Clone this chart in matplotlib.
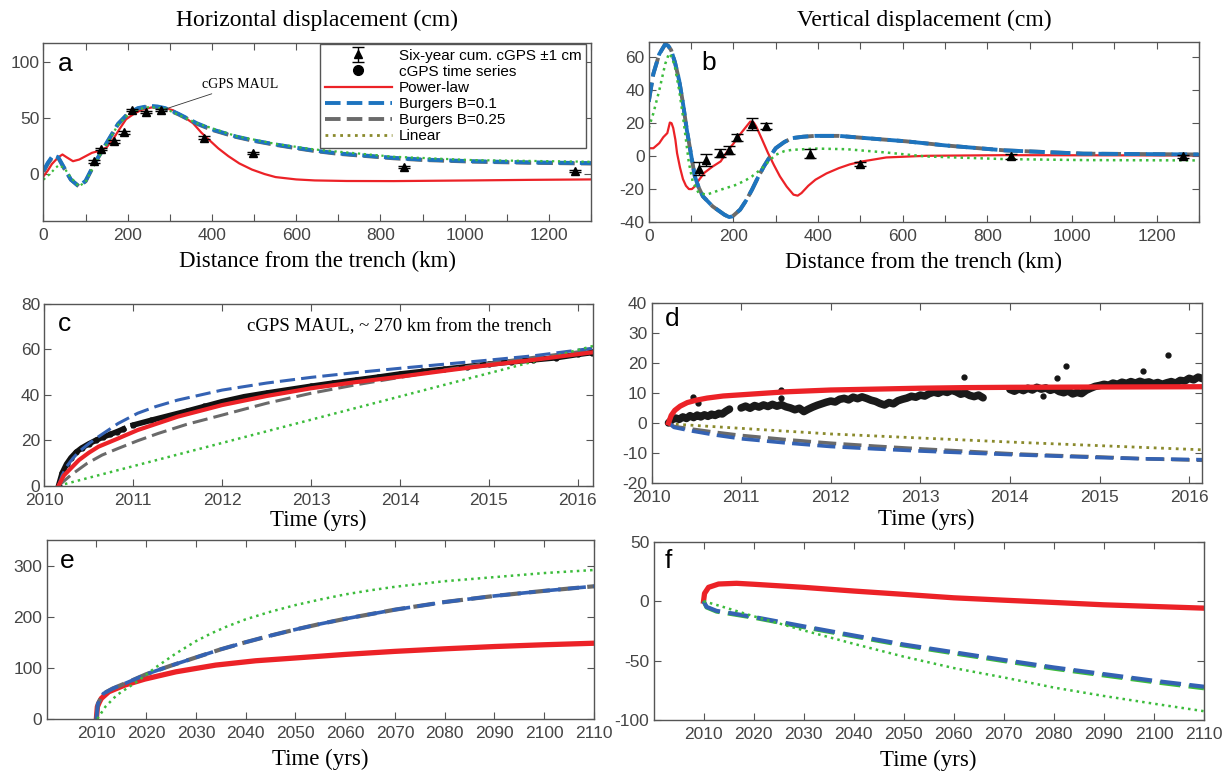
import matplotlib
matplotlib.use('Agg')
import matplotlib.pyplot as plt

plt.rcParams['axes.unicode_minus'] = False
plt.rcParams['font.family'] = 'Liberation Sans'

# ---- (a) horizontal displacement vs distance ----
sta_km = [119, 136, 168, 190, 209, 243, 278, 380, 498, 856, 1263]
a_obs = [11.3, 22.3, 29.2, 37.2, 57.4, 55.4, 57.4, 32.7, 18.8, 6.0, 2.4]

a_red_km = [0, 10, 20, 35, 45, 55, 70, 85, 100, 115, 135, 150, 165, 180, 196, 215, 233, 255,
            271, 290, 308, 330, 355, 375, 392, 415, 439, 465, 495, 525, 551, 600, 644, 720,
            831, 1018, 1150, 1300]
a_red = [-2, 3, 9, 15, 17.5, 15, 11.5, 13, 16, 19, 21, 24, 31, 40, 49, 54, 57.5, 59.5,
         60, 59, 57, 52, 45.5, 37, 31, 23, 16, 9.5, 4, 0, -2.7, -4.8, -5.7, -6.2,
         -6.3, -5.7, -5.2, -4.8]
a_blue_km = [0, 10, 23, 35, 50, 65, 84, 100, 115, 131, 150, 177, 200, 224, 252, 270, 289,
             320, 364, 400, 457, 500, 551, 600, 644, 700, 831, 900, 1018, 1150, 1300]
a_blue = [3, 10, 17, 15, 5, -5, -11, -6, 5, 16, 28, 45, 54, 59, 61, 60.5, 59,
          54, 45.5, 40, 33.6, 30, 26.5, 23.5, 21, 18.5, 14.5, 13, 11.5, 10.5, 9.8]
a_gray = [2, 9, 16, 14.5, 4.5, -5, -11, -6.5, 4.5, 15.5, 27.5, 44.5, 53.5, 58.5, 60.5, 60, 58.5,
          53.5, 45, 39.5, 33.2, 29.6, 26.1, 23.1, 20.6, 18.1, 14.1, 12.6, 11.1, 10.1, 9.4]
a_lin_km = [0, 15, 30, 37, 50, 65, 84, 100, 115, 131, 150, 177, 200, 224, 252, 289, 364,
            457, 551, 644, 831, 1018, 1300]
a_lin = [-5, 0, 6, 8, 5, -3, -11, -7, 4, 15, 27, 44, 53, 58, 60, 58.5, 45.5,
         34, 27, 22, 15.5, 12.5, 11]

# ---- (b) vertical displacement vs distance ----
b_obs = [-7.6, -2.4, 2.0, 3.7, 11.4, 19.6, 18.4, 1.6, -4.5, -0.2, -0.2]
b_err = [3.8, 3.8, 2.3, 2.5, 2.2, 3.8, 2.0, 2.5, 1.2, 1.5, 1.0]

b_red_km = [0, 11, 25, 34.5, 44, 50, 54, 58, 63, 67, 74, 81, 88, 95, 102, 109, 120, 132, 150,
            170, 188, 200, 212, 226, 240, 248, 254, 268, 282, 296, 310, 326, 342, 352, 361,
            377, 394, 420, 449, 475, 505, 561, 655, 841, 1300]
b_red = [4.8, 4.8, 7.9, 11.5, 14, 20.4, 20, 17, 10, 1.8, -7, -14, -18, -20, -20, -18.4, -14, -10,
         -6.5, -3.2, 3.8, 7.5, 12, 16.5, 21, 20.5, 18, 10, 1.8, -5.5, -12.3, -18.5, -23.4, -24,
         -22.4, -18, -14.3, -10.5, -7.3, -5, -3.2, -0.8, 0.2, 0.6, 0.4]
b_blue_km = [0, 11, 25, 39, 46, 53, 62, 72, 81, 90, 100, 109, 118, 128, 151, 179, 190, 198, 216,
             230, 244, 258, 272, 286, 300, 320, 338, 365, 393, 449, 515, 608, 701, 841, 1027, 1300]
b_blue = [33, 50, 62, 68, 67, 64.4, 57, 46, 32, 16, 1, -12.3, -19, -24.4, -30.5, -35.6, -37,
          -36.6, -32.5, -27, -20.4, -13, -6.3, -0.5, 4.8, 8.5, 10.9, 11.8, 12.3, 12.3, 10.9,
          9, 6.5, 3.5, 1.5, 1.0]
b_lin_km = [0, 11, 25, 39, 48, 55, 62, 72, 81, 88, 95, 104, 118, 137, 170, 207, 230, 244, 260,
            272, 286, 300, 320, 338, 393, 468, 561, 655, 841, 1027, 1300]
b_lin = [17, 26, 40, 56, 62.4, 60, 54, 40, 24, 10, -4.2, -15.4, -22.4, -23.4, -20.4, -17.4,
         -14.5, -12.3, -9, -6.3, -2.5, 0.8, 3, 3.8, 4.6, 4.2, 2.2, -0.2, -1.8, -2.4, -2.6]

# ---- (c) MAUL horizontal time series ----
c_gps_t1 = [2010.16, 2010.20, 2010.25, 2010.30, 2010.36, 2010.42, 2010.50, 2010.58, 2010.66,
            2010.74, 2010.82, 2010.89]
c_gps_v1 = [0, 5.5, 9.5, 12.3, 14.8, 16.6, 18.4, 20.0, 21.4, 22.6, 23.8, 25.0]
c_gps_t2 = [2011.0, 2011.2, 2011.4, 2011.6, 2011.8, 2012.0, 2012.25, 2012.5, 2012.75, 2013.0,
            2013.25, 2013.5, 2013.75, 2014.0, 2014.25, 2014.5, 2014.75, 2015.0, 2015.25,
            2015.5, 2015.75, 2016.0, 2016.16]
c_gps_v2 = [26.7, 28.8, 30.8, 32.8, 34.9, 37.0, 39.2, 40.8, 42.3, 43.8, 45.2, 46.5, 47.8, 49.2,
            50.3, 51.3, 52.4, 53.5, 54.5, 55.4, 56.3, 57.8, 58.6]

c_red_t = [2010.16, 2010.22, 2010.28, 2010.39, 2010.5, 2010.61, 2010.83, 2011.05, 2011.5, 2012,
           2012.5, 2013, 2013.5, 2014, 2014.5, 2015, 2015.5, 2016.16]
c_red = [0, 4.5, 6.9, 11.3, 14.5, 17.2, 20.8, 24.5, 30.4, 35.5, 39.5, 42.9, 45.6, 48, 50.6,
         53.1, 55.4, 58.7]
c_blue_t = [2010.16, 2010.2, 2010.25, 2010.32, 2010.39, 2010.5, 2010.61, 2010.83, 2011.05,
            2011.25, 2011.5, 2012, 2012.5, 2013, 2013.5, 2014, 2014.5, 2015, 2015.5, 2016.16]
c_blue = [0, 4.5, 8.4, 12, 15, 18.5, 21.6, 27.4, 31.9, 34.8, 37.7, 42.1, 45.2, 47.7, 49.8, 51.7,
          53.5, 55.3, 57.2, 60.5]
c_gray_t = [2010.16, 2010.3, 2010.48, 2010.65, 2010.83, 2011.05, 2011.28, 2011.6, 2012, 2012.5,
            2013, 2013.5, 2014, 2014.5, 2015, 2015.5, 2016.16]
c_gray = [0, 4.7, 9.8, 13.5, 16.4, 19.8, 23, 27, 31.1, 36.3, 40.7, 44.4, 47.7, 51, 53.9, 56.5, 59.7]
c_lin_t = [2010.16, 2016.17]
c_lin = [0, 61.5]

# ---- (d) MAUL vertical time series ----
d_gps_t1 = [2010.19, 2010.23, 2010.27, 2010.31, 2010.35, 2010.39, 2010.43, 2010.47, 2010.51,
            2010.55, 2010.59, 2010.63, 2010.67, 2010.71, 2010.75, 2010.79, 2010.83, 2010.87]
d_gps_v1 = [0.0, 1.1, 1.6, 1.2, 2.0, 1.5, 2.4, 1.8, 2.6, 2.0, 2.7, 2.2, 2.9, 2.5, 3.2, 3.0, 3.9, 4.6]
d_gps_t2 = [2011.00, 2011.05, 2011.10, 2011.15, 2011.20, 2011.25, 2011.30, 2011.35, 2011.40,
            2011.45, 2011.50, 2011.55, 2011.60, 2011.65, 2011.70, 2011.75, 2011.80, 2011.85,
            2011.90, 2011.95, 2012.00, 2012.05, 2012.10, 2012.15, 2012.20, 2012.25, 2012.30,
            2012.35, 2012.40, 2012.45, 2012.50, 2012.55, 2012.60, 2012.65, 2012.70, 2012.75,
            2012.80, 2012.85, 2012.90, 2012.95, 2013.00, 2013.05, 2013.10, 2013.15, 2013.20,
            2013.25, 2013.30, 2013.35, 2013.40, 2013.45, 2013.50, 2013.55, 2013.60, 2013.65,
            2013.70]
d_gps_v2 = [5.0, 5.6, 4.9, 5.8, 5.3, 6.0, 5.5, 6.2, 5.6, 6.1, 5.4, 5.0, 4.4, 4.9, 3.8, 4.6, 5.3,
            5.9, 6.4, 6.9, 7.3, 7.0, 7.9, 8.2, 7.7, 8.6, 8.1, 8.7, 8.2, 7.6, 7.2, 6.5, 6.0, 6.8,
            6.4, 7.4, 7.9, 8.3, 8.9, 8.6, 9.3, 9.0, 9.8, 10.3, 9.9, 10.6, 10.2, 10.9, 10.4, 9.6,
            10.0, 9.2, 8.8, 9.3, 8.4]
d_gps_t3 = [2014.00, 2014.05, 2014.10, 2014.15, 2014.20, 2014.25, 2014.30, 2014.35, 2014.40,
            2014.45, 2014.50, 2014.55, 2014.60, 2014.65, 2014.70, 2014.75, 2014.80, 2014.85,
            2014.90, 2014.95, 2015.00, 2015.05, 2015.10, 2015.15, 2015.20, 2015.25, 2015.30,
            2015.35, 2015.40, 2015.45, 2015.50, 2015.55, 2015.60, 2015.65, 2015.70, 2015.75,
            2015.80, 2015.85, 2015.90, 2015.95, 2016.00, 2016.05, 2016.10, 2016.15]
d_gps_v3 = [11.2, 10.6, 11.4, 10.8, 11.6, 11.0, 11.9, 11.3, 11.7, 10.9, 11.4, 10.5, 10.1, 10.7,
            9.7, 10.2, 9.8, 10.9, 11.6, 12.2, 12.5, 12.9, 12.6, 13.3, 12.9, 13.6, 13.2, 13.8,
            13.3, 13.9, 13.4, 13.7, 13.1, 13.5, 12.9, 13.4, 13.8, 13.3, 14.2, 14.0, 14.9, 14.4,
            15.3, 14.8]
d_out_t = [2010.46, 2010.52, 2011.45, 2011.45, 2013.49, 2014.37, 2014.52, 2014.63, 2015.49, 2015.76]
d_out_v = [8.7, 6.5, 11.0, 8.2, 15.2, 8.9, 14.9, 18.9, 17.4, 22.6]

d_red_t = [2010.19, 2010.22, 2010.26, 2010.32, 2010.4, 2010.5, 2010.62, 2010.8, 2011, 2011.5,
           2012, 2012.5, 2013, 2013.5, 2014, 2015, 2016.15]
d_red = [0, 2.5, 4.2, 5.6, 6.8, 7.6, 8.3, 9.0, 9.4, 10.4, 11, 11.3, 11.6, 11.8, 11.9, 12, 12.1]
d_blue_t = [2010.19, 2010.25, 2010.43, 2010.7, 2011, 2011.5, 2012, 2012.5, 2013, 2013.5, 2014,
            2014.5, 2015, 2015.5, 2016.15]
d_blue = [0, -1.5, -2.6, -4, -5.3, -6.7, -7.9, -8.7, -9.4, -10, -10.6, -11.1, -11.6, -12, -12.3]
d_gray = [0, -1.2, -2, -3.1, -4.2, -5.6, -6.8, -7.8, -8.7, -9.5, -10.3, -10.9, -11.4, -12, -12.5]
d_lin_t = [2010.19, 2012, 2014, 2016.15]
d_lin = [-0.3, -3.7, -6.4, -9]

# ---- (e) horizontal, century scale ----
e_red_t = [2010.0, 2010.2, 2010.6, 2011, 2012.5, 2015.7, 2019.7, 2026, 2034, 2042, 2050, 2060,
           2070, 2080, 2090, 2100, 2110]
e_red = [0, 24, 33, 40.5, 53.6, 66.7, 78.4, 92.8, 106, 114.5, 120, 127, 133, 138, 142.5, 146, 149]
e_blue_t = [2010.0, 2010.3, 2011.4, 2013.3, 2016.5, 2020, 2025, 2030, 2035, 2040, 2045, 2050,
            2055, 2060, 2065, 2070, 2080, 2090, 2100, 2110]
e_blue = [0, 30, 50, 60, 73, 88, 105, 121, 137, 151, 164, 176, 187, 197, 206, 215, 230, 242,
          252, 261]
e_lin_t = [2010.2, 2011.8, 2014.1, 2018.1, 2022, 2026, 2030, 2033, 2036, 2040, 2045, 2050, 2055,
           2060, 2065, 2070, 2080, 2090, 2100, 2110]
e_lin = [0, 24, 47, 73, 102, 129, 153, 168, 181, 196, 211, 224, 235, 245, 253, 260, 271, 279,
         287, 293]

# ---- (f) vertical, century scale ----
f_red_t = [2010, 2010.2, 2011, 2013, 2016.6, 2020, 2030, 2040, 2050, 2060, 2070, 2080, 2090,
           2100, 2110]
f_red = [0, 6.5, 11.6, 14.4, 15, 14.2, 11.6, 8.5, 5.7, 2.8, 0.8, -1.1, -3.1, -4.5, -5.9]
f_blue_t = [2010, 2010.6, 2012.6, 2020, 2030, 2040, 2050, 2060, 2070, 2080, 2090, 2100, 2110]
f_blue = [0, -4.8, -8.2, -13.3, -21.2, -28.9, -36.5, -43, -49.5, -55.8, -61.4, -67, -72]
f_b25 = [0, -5.3, -8.8, -13.9, -21.9, -29.6, -37.3, -43.9, -50.4, -56.8, -62.5, -68.1, -73.3]
f_lin_t = [2010, 2013.4, 2020, 2030, 2040, 2050, 2060, 2070, 2080, 2090, 2100, 2110]
f_lin = [0, -4.2, -12.7, -24.6, -35.9, -46.7, -56.3, -64.2, -72.7, -79.8, -86.3, -92.6]

RED = '#ec2227'
BLUE_AB = '#1d74bf'
BLUE = '#3462b3'
GRAY = '#6a6a6a'
GREEN = '#3cbc3c'
OLIVE = '#8a8a2c'
DASH = (4, 1.6)

W, H = 1227, 771
fig = plt.figure(figsize=(W / 100, H / 100), dpi=100)


def box(l, t, r, b):
    return fig.add_axes([l / W, 1 - b / H, (r - l) / W, (b - t) / H])


def style(ax, letter, lx, ly, xlabel, lpad):
    ax.tick_params(direction='in', top=True, right=True, length=5, width=0.8,
                   color='#555555', labelcolor='#454545', labelsize=12.5)
    ax.tick_params(axis='x', pad=5)
    ax.tick_params(axis='y', pad=3)
    for s in ax.spines.values():
        s.set_color('#555555')
        s.set_linewidth(1.0)
    ax.text(lx, ly, letter, transform=ax.transAxes, fontsize=19, va='center', ha='left')
    ax.set_xlabel(xlabel, family='Liberation Serif', fontsize=16.5, labelpad=lpad)


def km_ticks(ax):
    ax.set_xlim(0, 1300)
    ax.set_xticks(range(0, 1301, 100))
    ax.set_xticklabels([str(v) if v % 200 == 0 else '' for v in range(0, 1301, 100)])


# panel a
ax = box(43.5, 43.3, 591, 221)
ax.plot(a_red_km, a_red, color=RED, lw=1.6, label='Power-law')
ax.plot(a_blue_km, a_gray, color=GRAY, lw=2.8, dashes=DASH, label='Burgers B=0.25')
ax.plot(a_blue_km, a_blue, color=BLUE_AB, lw=2.8, dashes=DASH, label='Burgers B=0.1')
ax.plot(a_lin_km, a_lin, color=GREEN, lw=1.6, ls=':', label='Linear')
ax.errorbar(sta_km, a_obs, yerr=1, fmt='^', color='k', ms=6, capsize=4, elinewidth=1,
            label='Six-year cum. cGPS \u00b11 cm')
ax.plot([], [], 'o', color='k', ms=7, label='cGPS time series')
ax.annotate('cGPS MAUL', xy=(288, 58), xytext=(376, 77), family='Liberation Serif',
            fontsize=10, arrowprops=dict(arrowstyle='-', lw=0.6, color='#333333',
                                         shrinkA=0, shrinkB=0))
ax.set_ylim(-42, 117)
ax.set_yticks([0, 50, 100])
km_ticks(ax)
style(ax, 'a', 0.027, 0.883, 'Distance from the trench (km)', 5.5)
h, l = ax.get_legend_handles_labels()
order = ['Six-year cum. cGPS \u00b11 cm', 'cGPS time series', 'Power-law', 'Burgers B=0.1',
         'Burgers B=0.25', 'Linear']
hh = [h[l.index(k)] for k in order]
hh[5] = plt.Line2D([], [], color=OLIVE, lw=2, ls=':')
leg = ax.legend(hh, order, loc='upper right', bbox_to_anchor=(0.991, 0.996), borderaxespad=0,
                fontsize=11, handlelength=4.4, handletextpad=0.45, labelspacing=0.14,
                borderpad=0.3, fancybox=False, framealpha=1)
leg.get_frame().set_edgecolor('#555555')
leg.get_frame().set_linewidth(1)

# panel b
ax = box(648.7, 41.7, 1199, 222)
ax.plot(b_red_km, b_red, color=RED, lw=1.6)
ax.plot(b_blue_km, b_blue, color=GRAY, lw=2.8, dashes=(5, 1.6))
ax.plot(b_blue_km, b_blue, color=BLUE_AB, lw=2.8, dashes=(5, 1.6, 4, 1.6))
ax.plot(b_lin_km, b_lin, color=GREEN, lw=1.8, ls=':')
ax.errorbar(sta_km, b_obs, yerr=b_err, fmt='^', color='k', ms=6, capsize=4, elinewidth=1)
ax.set_ylim(-40, 69.5)
ax.set_yticks([-40, -20, 0, 20, 40, 60])
km_ticks(ax)
style(ax, 'b', 0.096, 0.883, 'Distance from the trench (km)', 5.5)

# panel c
ax = box(44.3, 304, 593, 485.7)
for t, v in [(c_gps_t1, c_gps_v1), (c_gps_t2, c_gps_v2)]:
    ax.plot(t, v, color='#111111', lw=4, marker='o', ms=3.5)
ax.plot(c_gray_t, c_gray, color=GRAY, lw=2.2, dashes=(5, 2))
ax.plot(c_blue_t, c_blue, color=BLUE, lw=2.2, dashes=(5, 2))
ax.plot(c_lin_t, c_lin, color=GREEN, lw=1.8, ls=':')
ax.plot(c_red_t, c_red, color=RED, lw=3)
ax.text(0.369, 0.876, 'cGPS MAUL, ~ 270 km from the trench', transform=ax.transAxes,
        family='Liberation Serif', fontsize=13.5, va='center')
ax.set_xlim(2010, 2016.17)
ax.set_ylim(0, 80)
ax.set_xticks(range(2010, 2017))
ax.set_yticks(range(0, 81, 20))
style(ax, 'c', 0.024, 0.89, 'Time (yrs)', 1.5)

# panel d
ax = box(651.5, 303.3, 1201.7, 482.7)
for t, v in [(d_gps_t1, d_gps_v1), (d_gps_t2, d_gps_v2), (d_gps_t3, d_gps_v3)]:
    ax.plot(t, v, color='#1a1a1a', lw=5.5, solid_joinstyle='round', solid_capstyle='round')
ax.plot(d_out_t, d_out_v, 'o', color='#151515', ms=3.5)
ax.plot(d_lin_t, d_lin, color=OLIVE, lw=2, ls=':')
ax.plot(d_blue_t, d_gray, color=GRAY, lw=2.6, dashes=(5, 2))
ax.plot(d_blue_t, d_blue, color=BLUE, lw=2.6, dashes=(5, 2))
ax.plot(d_red_t, d_red, color=RED, lw=3.8)
ax.set_xlim(2010, 2016.14)
ax.set_ylim(-20, 40)
ax.set_xticks(range(2010, 2017))
ax.set_yticks(range(-20, 41, 10))
style(ax, 'd', 0.025, 0.91, 'Time (yrs)', 3)

# panel e
ax = box(46.6, 540, 594, 719)
ax.plot(e_red_t, e_red, color=RED, lw=3.8)
ax.plot(e_blue_t, e_blue, color=GRAY, lw=3, dashes=(5, 2))
ax.plot(e_blue_t, e_blue, color=BLUE, lw=2.6, dashes=(5, 2))
ax.plot(e_lin_t, e_lin, color=GREEN, lw=1.8, ls=':')
ax.set_xlim(2000, 2110)
ax.set_ylim(0, 352)
ax.set_xticks(range(2010, 2111, 10))
ax.set_yticks([0, 100, 200, 300])
style(ax, 'e', 0.025, 0.88, 'Time (yrs)', 6)

# panel f
ax = box(653.5, 541.7, 1204, 720)
ax.plot(f_red_t, f_red, color=RED, lw=3.8)
ax.plot(f_blue_t, f_b25, color=GREEN, lw=3, dashes=(5, 2))
ax.plot(f_blue_t, f_blue, color=BLUE, lw=3, dashes=(5, 2))
ax.plot(f_lin_t, f_lin, color=GREEN, lw=1.8, ls=':')
ax.set_xlim(2000, 2110)
ax.set_ylim(-100, 50)
ax.set_xticks(range(2010, 2111, 10))
ax.set_yticks([-100, -50, 0, 50])
style(ax, 'f', 0.021, 0.89, 'Time (yrs)', 6)

fig.text(317 / W, 1 - 20 / H, 'Horizontal displacement (cm)', family='Liberation Serif',
         fontsize=17, ha='center', va='center')
fig.text(924 / W, 1 - 20 / H, 'Vertical displacement (cm)', family='Liberation Serif',
         fontsize=17, ha='center', va='center')

fig.savefig('out.png', dpi=100)
